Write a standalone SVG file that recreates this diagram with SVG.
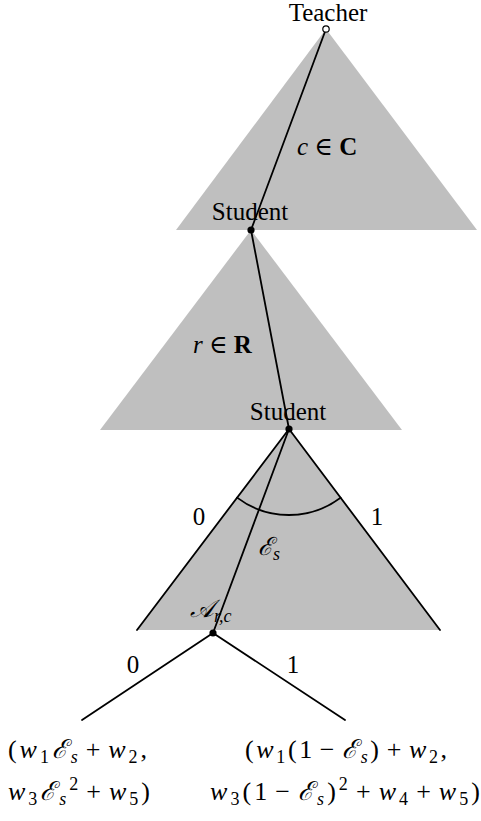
<svg xmlns="http://www.w3.org/2000/svg" width="481" height="821" viewBox="0 0 481 821">
<style>
.tri{fill:#bfbfbf;stroke:none}
.edge{stroke:#000;stroke-width:1.8;fill:none;stroke-linecap:round}
.dot{fill:#000}
text{font-family:"Liberation Serif","DejaVu Serif",serif;font-size:25px;fill:#000}
.leaf{font-size:26px}
.i{font-style:italic}
.b{font-weight:bold}
.sub{font-size:18px;font-style:italic}
.subn{font-size:18px}
</style>
<g id="tri-teacher"><polygon class="tri" points="326,29 176,230 477,230"/></g>
<g id="tri-student1"><polygon class="tri" points="251,230 100,430 402,430"/></g>
<g id="tri-student2"><polygon class="tri" points="289,429 137,630 440,630"/></g>
<g id="connectors">
<line class="edge" x1="326" y1="29" x2="251" y2="230"/>
<line class="edge" x1="251" y1="230" x2="289" y2="429"/>
<line class="edge" x1="289" y1="429" x2="213" y2="633"/>
<line class="edge" x1="289" y1="429" x2="137" y2="630"/>
<line class="edge" x1="289" y1="429" x2="440" y2="630"/>
<path class="edge" d="M237.1,497.6 A86,86 0 0 0 340.6,497.8"/>
<line class="edge" x1="213" y1="633" x2="82" y2="720"/>
<line class="edge" x1="213" y1="633" x2="345" y2="720"/>
</g>
<g id="teacher"><circle cx="326" cy="29" r="3.2" fill="#fff" stroke="#000" stroke-width="1.2"/><text x="328" y="21" text-anchor="middle" font-size="24">Teacher</text></g>
<g id="student1"><circle class="dot" cx="251" cy="230" r="3.6"/><text x="250" y="220" text-anchor="middle">Student</text></g>
<g id="student2"><circle class="dot" cx="289" cy="429" r="3.6"/><text x="288" y="420" text-anchor="middle">Student</text></g>
<g id="label-c"><text x="297" y="155"><tspan class="i">c</tspan> ∈ <tspan class="b">C</tspan></text></g>
<g id="label-r"><text x="193" y="353"><tspan class="i">r</tspan> ∈ <tspan class="b">R</tspan></text></g>
<g id="label-es"><text x="258" y="555"><tspan class="i">ℰ</tspan><tspan class="sub" dy="5">s</tspan></text></g>
<g id="label-0a"><text x="199" y="525" text-anchor="middle">0</text></g>
<g id="label-1a"><text x="377" y="525" text-anchor="middle">1</text></g>
<g id="node-a"><circle class="dot" cx="213" cy="633" r="3.6"/><text x="190" y="617"><tspan class="i">𝒜</tspan><tspan class="sub" dy="5">r,c</tspan></text></g>
<g id="label-0b"><text x="133" y="673" text-anchor="middle">0</text></g>
<g id="label-1b"><text x="293" y="673" text-anchor="middle">1</text></g>
<g id="leaf-0">
<text class="leaf" x="8" y="758" textLength="139">(<tspan class="i">w</tspan><tspan class="subn" dy="5">1</tspan><tspan class="i" dy="-5">ℰ</tspan><tspan class="sub" dy="5">s</tspan><tspan dy="-5" dx="5">+</tspan><tspan class="i" dx="5">w</tspan><tspan class="subn" dy="5">2</tspan><tspan dy="-5">,</tspan></text>
<text class="leaf" x="8" y="800" textLength="142"><tspan class="i">w</tspan><tspan class="subn" dy="5">3</tspan><tspan class="i" dy="-5">ℰ</tspan><tspan class="sub" dy="5">s</tspan><tspan class="subn" dy="-15">2</tspan><tspan dy="10" dx="5">+</tspan><tspan class="i" dx="5">w</tspan><tspan class="subn" dy="5">5</tspan><tspan dy="-5">)</tspan></text>
</g>
<g id="leaf-1">
<text class="leaf" x="245" y="758" textLength="202">(<tspan class="i">w</tspan><tspan class="subn" dy="5">1</tspan><tspan dy="-5">(1</tspan><tspan dx="5">−</tspan><tspan class="i" dx="5">ℰ</tspan><tspan class="sub" dy="5">s</tspan><tspan dy="-5">)</tspan><tspan dx="5">+</tspan><tspan class="i" dx="5">w</tspan><tspan class="subn" dy="5">2</tspan><tspan dy="-5">,</tspan></text>
<text class="leaf" x="210" y="800" textLength="270"><tspan class="i">w</tspan><tspan class="subn" dy="5">3</tspan><tspan dy="-5">(1</tspan><tspan dx="5">−</tspan><tspan class="i" dx="5">ℰ</tspan><tspan class="sub" dy="5">s</tspan><tspan dy="-5">)</tspan><tspan class="subn" dy="-10">2</tspan><tspan dy="10" dx="5">+</tspan><tspan class="i" dx="5">w</tspan><tspan class="subn" dy="5">4</tspan><tspan dy="-5" dx="5">+</tspan><tspan class="i" dx="5">w</tspan><tspan class="subn" dy="5">5</tspan><tspan dy="-5">)</tspan></text>
</g>
</svg>
